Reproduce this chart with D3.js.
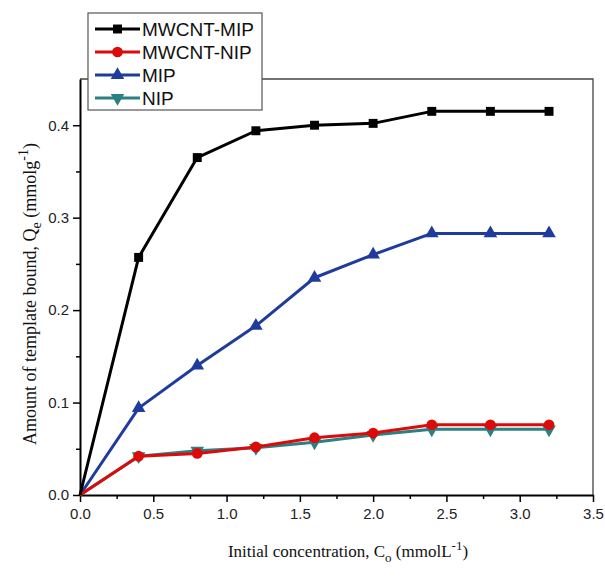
<!DOCTYPE html>
<html lang="en">
<head>
	<meta charset="UTF-8">
	<script src="https://cdn.jsdelivr.net/npm/d3@7"></script>
	<title>Template binding</title>
	<style>
		body { margin: 0; background: white; }
		svg { display: block; }
		.tick text { font-family: Arial, "Liberation Sans", sans-serif; font-size: 15px; fill: #222; }
		.title { font-family: "Times New Roman", "Liberation Serif", serif; font-size: 17px; fill: #111; }
		.legend text { font-family: Arial, "Liberation Sans", sans-serif; font-size: 19px; fill: #111; }
	</style>
</head>
<body>
	<script>
		// data
		const conc = [0, 0.4, 0.8, 1.2, 1.6, 2.0, 2.4, 2.8, 3.2]
		const mwcntMip = [0, 0.257, 0.365, 0.394, 0.400, 0.402, 0.415, 0.415, 0.415]
		const mwcntNip = [0, 0.042, 0.045, 0.052, 0.062, 0.067, 0.076, 0.076, 0.076]
		const mip = [0, 0.094, 0.140, 0.183, 0.235, 0.260, 0.283, 0.283, 0.283]
		const nip = [0, 0.042, 0.048, 0.051, 0.057, 0.065, 0.071, 0.071, 0.071]
		const seriesNames = ["MWCNT-MIP", "MWCNT-NIP", "MIP", "NIP"]
		const xTicks = [0, 0.5, 1.0, 1.5, 2.0, 2.5, 3.0, 3.5]
		const yTicks = [0, 0.1, 0.2, 0.3, 0.4]

		const series = [
			{ name: seriesNames[0], values: mwcntMip, color: "#000000", symbol: d3.symbolSquare, size: 80, rot: 0 },
			{ name: seriesNames[1], values: mwcntNip, color: "#dd0a0a", symbol: d3.symbolCircle, size: 90, rot: 0 },
			{ name: seriesNames[2], values: mip, color: "#1f3c9c", symbol: d3.symbolTriangle, size: 80, rot: 0 },
			{ name: seriesNames[3], values: nip, color: "#2a8082", symbol: d3.symbolTriangle, size: 80, rot: 180 }
		]

		const W = 605, H = 578
		const plot = { left: 80, right: 593, top: 79, bottom: 495 }

		const svg = d3.select("body").append("svg")
			.attr("width", W)
			.attr("height", H)

		const x = d3.scaleLinear().domain([0, 3.5]).range([plot.left, plot.right])
		const y = d3.scaleLinear().domain([0, 0.45]).range([plot.bottom, plot.top])

		// frame top / right
		svg.append("path")
			.attr("d", `M${plot.left},${plot.top}H${plot.right}V${plot.bottom}`)
			.attr("fill", "none")
			.attr("stroke", "#444")
			.attr("stroke-width", 1.3)

		// minor ticks
		const xMinor = d3.range(0.25, 3.5, 0.5)
		const yMinor = d3.range(0.05, 0.45, 0.1)
		svg.append("g")
			.attr("transform", `translate(0,${plot.bottom})`)
			.call(d3.axisBottom(x).tickValues(xMinor).tickSize(4).tickFormat(""))
			.call(g => g.select(".domain").remove())
			.selectAll("line").attr("stroke-width", 1.5)
		svg.append("g")
			.attr("transform", `translate(${plot.left},0)`)
			.call(d3.axisLeft(y).tickValues(yMinor).tickSize(4).tickFormat(""))
			.call(g => g.select(".domain").remove())
			.selectAll("line").attr("stroke-width", 1.5)

		// major axes
		const xAxis = svg.append("g")
			.attr("transform", `translate(0,${plot.bottom})`)
			.call(d3.axisBottom(x).tickValues(xTicks).tickSize(7).tickSizeOuter(0).tickPadding(6).tickFormat(d3.format(".1f")))
		xAxis.select(".domain").attr("stroke-width", 2)
		xAxis.selectAll(".tick line").attr("stroke-width", 1.5)

		const yAxis = svg.append("g")
			.attr("transform", `translate(${plot.left},0)`)
			.call(d3.axisLeft(y).tickValues(yTicks).tickSize(7).tickSizeOuter(0).tickPadding(4).tickFormat(d3.format(".1f")))
		yAxis.select(".domain").attr("stroke-width", 2)
		yAxis.selectAll(".tick line").attr("stroke-width", 1.5)

		// lines + markers
		const line = d3.line()
			.x((d, i) => x(conc[i]))
			.y(d => y(d))

		series.slice().reverse().forEach(s => {
			svg.append("path")
				.datum(s.values)
				.attr("d", line)
				.attr("fill", "none")
				.attr("stroke", s.color)
				.attr("stroke-width", 3)
				.attr("stroke-linejoin", "round")

			svg.selectAll(null)
				.data(s.values.slice(1))
				.enter()
				.append("path")
				.attr("d", d3.symbol().type(s.symbol).size(s.size))
				.attr("transform", (d, i) => `translate(${x(conc[i + 1])},${y(d)}) rotate(${s.rot})`)
				.attr("fill", s.color)
		})

		// axis titles
		svg.append("text")
			.attr("class", "title")
			.attr("x", 348)
			.attr("y", 557)
			.attr("text-anchor", "middle")
			.html('Initial concentration, C<tspan dy="5" font-size="13">o</tspan><tspan dy="-5"> (mmolL</tspan><tspan dy="-7" font-size="13">-1</tspan><tspan dy="7">)</tspan>')

		svg.append("text")
			.attr("class", "title")
			.attr("transform", "translate(36,294) rotate(-90)")
			.attr("text-anchor", "middle")
			.attr("font-size", 18)
			.style("font-size", "18px")
			.html('Amount of template bound, Q<tspan dy="5" font-size="14">e</tspan><tspan dy="-5"> (mmolg</tspan><tspan dy="-8" font-size="14">-1</tspan><tspan dy="8">)</tspan>')

		// legend
		const legend = svg.append("g").attr("class", "legend")
		legend.append("rect")
			.attr("x", 88).attr("y", 13)
			.attr("width", 174).attr("height", 97)
			.attr("fill", "white")
			.attr("stroke", "#555")
			.attr("stroke-width", 1.2)

		const rows = legend.selectAll("g.row")
			.data(series)
			.enter()
			.append("g")
			.attr("class", "row")
			.attr("transform", (d, i) => `translate(0,${29 + i * 23})`)
		rows.append("line")
			.attr("x1", 95).attr("x2", 140)
			.attr("stroke", d => d.color)
			.attr("stroke-width", 3)
		rows.append("path")
			.attr("d", d => d3.symbol().type(d.symbol).size(d.size)())
			.attr("transform", d => `translate(117.5,0) rotate(${d.rot})`)
			.attr("fill", d => d.color)
		rows.append("text")
			.attr("x", 142)
			.attr("dy", "0.36em")
			.text(d => d.name)
	</script>
</body>
</html>
